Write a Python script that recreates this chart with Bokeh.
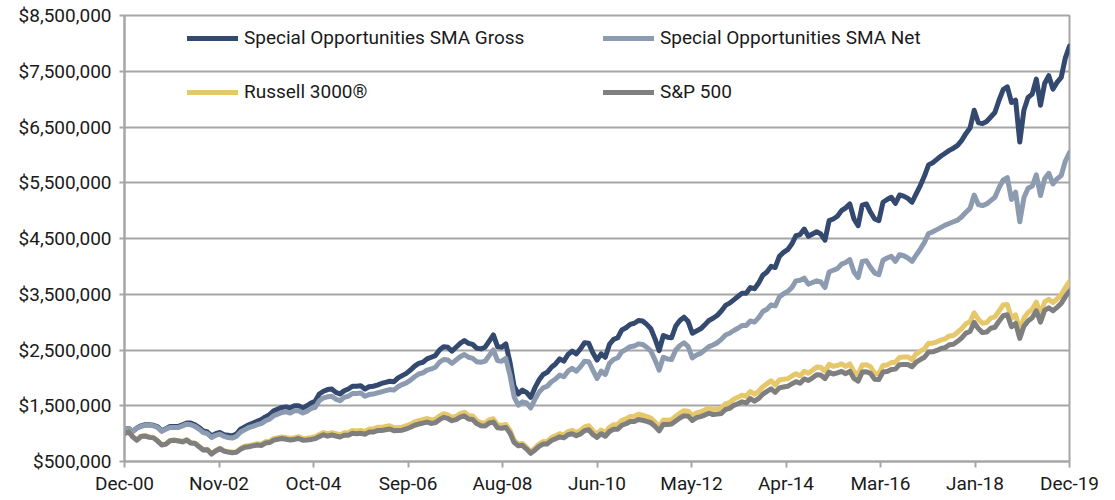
from bokeh.plotting import figure
from bokeh.models import (Range1d, FixedTicker, NumeralTickFormatter, Legend, LegendItem)
from bokeh.embed import file_html
from bokeh.resources import INLINE

# Month-end values (in $ millions) from Dec-00 to Dec-19, one per month
gross_m = [
    1.08,
    1.09, 1.04, 1.10, 1.14, 1.16, 1.16, 1.15, 1.12, 1.05, 1.09, 1.13, 1.13,
    1.13, 1.16, 1.19, 1.19, 1.16, 1.11, 1.05, 1.03, 0.96, 1.00, 1.02, 0.98,
    0.97, 0.96, 0.99, 1.08, 1.12, 1.16, 1.19, 1.22, 1.25, 1.30, 1.34, 1.41,
    1.44, 1.47, 1.48, 1.46, 1.50, 1.50, 1.46, 1.50, 1.55, 1.58, 1.71, 1.76,
    1.79, 1.80, 1.74, 1.71, 1.77, 1.80, 1.85, 1.85, 1.86, 1.80, 1.84, 1.85,
    1.87, 1.90, 1.92, 1.94, 1.93, 2.00, 2.04, 2.08, 2.14, 2.21, 2.26, 2.28,
    2.34, 2.37, 2.40, 2.50, 2.56, 2.55, 2.48, 2.55, 2.62, 2.67, 2.62, 2.60,
    2.53, 2.52, 2.55, 2.66, 2.77, 2.56, 2.55, 2.61, 2.28, 1.85, 1.71, 1.78,
    1.74, 1.65, 1.82, 1.96, 2.06, 2.10, 2.19, 2.25, 2.34, 2.30, 2.42, 2.48,
    2.43, 2.52, 2.63, 2.62, 2.45, 2.32, 2.43, 2.37, 2.60, 2.69, 2.72, 2.86,
    2.90, 2.96, 2.98, 3.03, 3.02, 2.96, 2.88, 2.70, 2.49, 2.76, 2.73, 2.72,
    2.93, 3.03, 3.09, 3.01, 2.80, 2.84, 2.88, 2.95, 3.03, 3.07, 3.12, 3.20,
    3.30, 3.34, 3.40, 3.46, 3.52, 3.52, 3.62, 3.60, 3.70, 3.84, 3.90, 4.00,
    3.98, 4.18, 4.25, 4.30, 4.40, 4.55, 4.57, 4.67, 4.54, 4.58, 4.62, 4.58,
    4.47, 4.82, 4.85, 4.90, 5.00, 5.05, 5.12, 4.85, 4.73, 5.10, 5.12, 4.97,
    4.85, 4.82, 5.15, 5.20, 5.24, 5.13, 5.28, 5.26, 5.22, 5.15, 5.30, 5.45,
    5.62, 5.82, 5.86, 5.92, 5.98, 6.03, 6.08, 6.12, 6.17, 6.26, 6.38, 6.48,
    6.80, 6.58, 6.56, 6.60, 6.68, 6.76, 6.98, 7.17, 7.22, 6.94, 6.98, 6.23,
    6.80, 7.03, 7.09, 7.36, 6.89, 7.28, 7.42, 7.18, 7.30, 7.39, 7.74, 7.95,
]

net_m = [
    1.08,
    1.09, 1.04, 1.10, 1.13, 1.15, 1.15, 1.14, 1.11, 1.04, 1.08, 1.11, 1.11,
    1.11, 1.14, 1.17, 1.16, 1.13, 1.08, 1.02, 1.00, 0.93, 0.97, 0.99, 0.95,
    0.93, 0.92, 0.95, 1.03, 1.07, 1.11, 1.13, 1.16, 1.18, 1.23, 1.26, 1.32,
    1.35, 1.38, 1.39, 1.37, 1.41, 1.41, 1.37, 1.40, 1.45, 1.47, 1.59, 1.64,
    1.66, 1.67, 1.62, 1.59, 1.65, 1.67, 1.72, 1.72, 1.73, 1.67, 1.70, 1.71,
    1.73, 1.75, 1.77, 1.79, 1.78, 1.84, 1.88, 1.91, 1.96, 2.02, 2.07, 2.09,
    2.14, 2.16, 2.19, 2.28, 2.33, 2.32, 2.26, 2.32, 2.38, 2.42, 2.37, 2.35,
    2.29, 2.28, 2.30, 2.40, 2.50, 2.31, 2.30, 2.35, 2.05, 1.66, 1.51, 1.57,
    1.55, 1.46, 1.61, 1.74, 1.82, 1.85, 1.93, 1.98, 2.05, 2.02, 2.12, 2.17,
    2.12, 2.20, 2.30, 2.29, 2.14, 1.99, 2.12, 2.06, 2.26, 2.33, 2.36, 2.47,
    2.51, 2.56, 2.57, 2.61, 2.60, 2.55, 2.48, 2.32, 2.14, 2.37, 2.34, 2.33,
    2.50, 2.58, 2.63, 2.56, 2.36, 2.41, 2.44, 2.50, 2.56, 2.59, 2.63, 2.69,
    2.77, 2.80, 2.85, 2.89, 2.94, 2.94, 3.02, 3.00, 3.08, 3.19, 3.23, 3.31,
    3.29, 3.45, 3.51, 3.55, 3.62, 3.74, 3.75, 3.79, 3.68, 3.71, 3.74, 3.72,
    3.62, 3.90, 3.93, 3.96, 4.04, 4.07, 4.12, 3.90, 3.80, 4.09, 4.10, 3.98,
    3.88, 3.85, 4.11, 4.15, 4.18, 4.09, 4.21, 4.19, 4.15, 4.09, 4.20, 4.31,
    4.43, 4.59, 4.62, 4.66, 4.70, 4.74, 4.77, 4.80, 4.83, 4.89, 4.97, 5.04,
    5.28, 5.11, 5.09, 5.12, 5.18, 5.24, 5.41, 5.55, 5.59, 5.20, 5.33, 4.80,
    5.23, 5.40, 5.44, 5.64, 5.27, 5.57, 5.67, 5.48, 5.57, 5.63, 5.89, 6.04,
]

russell_m = [
    1.000,
    1.040, 0.945, 0.885, 0.955, 0.962, 0.940, 0.930, 0.872, 0.800, 0.815, 0.878, 0.885,
    0.876, 0.858, 0.893, 0.838, 0.831, 0.772, 0.711, 0.716, 0.640, 0.696, 0.738, 0.695,
    0.678, 0.668, 0.676, 0.733, 0.775, 0.786, 0.802, 0.819, 0.811, 0.857, 0.865, 0.910,
    0.928, 0.941, 0.929, 0.913, 0.926, 0.946, 0.913, 0.918, 0.930, 0.945, 0.985, 1.019,
    0.995, 1.016, 0.999, 0.980, 1.014, 1.017, 1.058, 1.049, 1.058, 1.040, 1.081, 1.082,
    1.113, 1.113, 1.129, 1.142, 1.107, 1.109, 1.115, 1.142, 1.171, 1.211, 1.235, 1.252,
    1.271, 1.246, 1.260, 1.314, 1.359, 1.336, 1.290, 1.312, 1.360, 1.383, 1.325, 1.316,
    1.235, 1.196, 1.190, 1.248, 1.266, 1.158, 1.148, 1.164, 1.060, 0.880, 0.815, 0.825,
    0.757, 0.677, 0.737, 0.812, 0.857, 0.861, 0.928, 0.962, 0.998, 0.977, 1.037, 1.059,
    1.022, 1.056, 1.122, 1.143, 1.053, 0.995, 1.065, 1.019, 1.114, 1.160, 1.163, 1.238,
    1.264, 1.309, 1.311, 1.348, 1.331, 1.307, 1.279, 1.206, 1.117, 1.244, 1.240, 1.251,
    1.311, 1.367, 1.412, 1.403, 1.319, 1.372, 1.391, 1.423, 1.460, 1.434, 1.443, 1.456,
    1.535, 1.557, 1.617, 1.651, 1.691, 1.668, 1.756, 1.706, 1.760, 1.840, 1.896, 1.945,
    1.875, 1.962, 1.975, 1.983, 2.030, 2.075, 2.037, 2.119, 2.083, 2.138, 2.193, 2.189,
    2.121, 2.243, 2.209, 2.222, 2.251, 2.206, 2.249, 2.112, 2.057, 2.229, 2.237, 2.199,
    2.079, 2.078, 2.222, 2.232, 2.274, 2.281, 2.367, 2.373, 2.375, 2.328, 2.432, 2.480,
    2.521, 2.620, 2.622, 2.647, 2.681, 2.700, 2.753, 2.760, 2.819, 2.883, 2.971, 3.004,
    3.168, 3.052, 2.980, 2.991, 3.072, 3.094, 3.200, 3.309, 3.318, 3.067, 3.130, 2.846,
    3.074, 3.174, 3.229, 3.358, 3.142, 3.362, 3.410, 3.352, 3.415, 3.490, 3.620, 3.729,
]

sp500_m = [
    1.000,
    1.035, 0.941, 0.881, 0.950, 0.956, 0.933, 0.924, 0.866, 0.796, 0.811, 0.873, 0.881,
    0.868, 0.851, 0.883, 0.830, 0.824, 0.765, 0.706, 0.710, 0.633, 0.689, 0.729, 0.686,
    0.668, 0.658, 0.664, 0.719, 0.757, 0.766, 0.780, 0.795, 0.787, 0.831, 0.839, 0.883,
    0.899, 0.911, 0.898, 0.884, 0.896, 0.913, 0.883, 0.887, 0.896, 0.910, 0.947, 0.979,
    0.955, 0.975, 0.958, 0.940, 0.970, 0.971, 1.007, 0.998, 1.006, 0.989, 1.027, 1.027,
    1.054, 1.057, 1.070, 1.084, 1.053, 1.054, 1.061, 1.086, 1.114, 1.150, 1.172, 1.189,
    1.207, 1.183, 1.197, 1.250, 1.293, 1.272, 1.232, 1.251, 1.297, 1.318, 1.263, 1.254,
    1.179, 1.141, 1.136, 1.191, 1.207, 1.105, 1.096, 1.112, 1.013, 0.843, 0.782, 0.790,
    0.724, 0.647, 0.703, 0.770, 0.813, 0.815, 0.877, 0.908, 0.942, 0.924, 0.980, 0.999,
    0.963, 0.993, 1.053, 1.069, 0.984, 0.933, 0.998, 0.953, 1.038, 1.078, 1.078, 1.150,
    1.177, 1.218, 1.218, 1.254, 1.240, 1.219, 1.195, 1.130, 1.050, 1.165, 1.162, 1.174,
    1.227, 1.280, 1.322, 1.314, 1.235, 1.286, 1.304, 1.333, 1.367, 1.342, 1.350, 1.362,
    1.433, 1.452, 1.507, 1.536, 1.571, 1.550, 1.629, 1.582, 1.631, 1.706, 1.758, 1.803,
    1.741, 1.820, 1.836, 1.849, 1.893, 1.932, 1.905, 1.981, 1.953, 2.001, 2.055, 2.050,
    1.988, 2.102, 2.069, 2.089, 2.116, 2.075, 2.118, 1.990, 1.941, 2.105, 2.111, 2.078,
    1.975, 1.972, 2.106, 2.114, 2.152, 2.157, 2.237, 2.240, 2.240, 2.200, 2.281, 2.326,
    2.370, 2.464, 2.467, 2.492, 2.527, 2.543, 2.595, 2.603, 2.656, 2.718, 2.802, 2.833,
    2.995, 2.885, 2.812, 2.822, 2.890, 2.908, 3.016, 3.114, 3.132, 2.918, 2.977, 2.709,
    2.926, 3.020, 3.078, 3.203, 2.999, 3.211, 3.257, 3.205, 3.265, 3.336, 3.457, 3.561,
]

series_names = ["Special Opportunities SMA Gross", "Special Opportunities SMA Net",
                "Russell 3000®", "S&P 500"]
x_tick_labels = ["Dec-00", "Nov-02", "Oct-04", "Sep-06", "Aug-08", "Jun-10",
                 "May-12", "Apr-14", "Mar-16", "Jan-18", "Dec-19"]
y_ticks = [500000, 1500000, 2500000, 3500000, 4500000, 5500000, 6500000, 7500000, 8500000]

colors = ["#34496f", "#8c9bb0", "#e6c86a", "#7f7f7f"]
FONT = "Roboto"
GRID = "#a6a6a6"

months = list(range(len(sp500_m)))
n_months = len(months) - 1

p = figure(width=1115, height=500, output_backend="svg", toolbar_location=None,
           x_range=Range1d(0, n_months), y_range=Range1d(y_ticks[0], y_ticks[-1]),
           min_border_left=124, min_border_right=46, min_border_top=15, min_border_bottom=39)

renderers = []
for vals, col in zip([gross_m, net_m, russell_m, sp500_m], colors):
    r = p.line(months, [v * 1e6 for v in vals], line_color=col, line_width=5,
               line_join="round", line_cap="round")
    renderers.append(r)

# axes
step = n_months / (len(x_tick_labels) - 1)
xt = [round(i * step, 4) for i in range(len(x_tick_labels))]
p.xaxis.ticker = FixedTicker(ticks=xt)
p.xaxis.major_label_overrides = {t: lab for t, lab in zip(xt, x_tick_labels)}
p.yaxis.ticker = FixedTicker(ticks=y_ticks)
p.yaxis.formatter = NumeralTickFormatter(format="$0,0")

for ax in (p.xaxis, p.yaxis):
    ax.axis_line_color = GRID
    ax.axis_line_width = 2
    ax.major_tick_line_color = GRID
    ax.major_tick_line_width = 2
    ax.major_tick_in = 0
    ax.minor_tick_line_color = None
    ax.major_label_text_font = FONT
    ax.major_label_text_font_size = "19px"
    ax.major_label_text_color = "#1a1a1a"
p.xaxis.major_tick_out = 6
p.xaxis.major_label_standoff = 4
p.yaxis.major_tick_out = 5
p.yaxis.major_label_standoff = 8

p.xgrid.grid_line_color = None
p.ygrid.grid_line_color = GRID
p.ygrid.grid_line_width = 2
p.outline_line_color = GRID
p.outline_line_width = 2
p.background_fill_color = "white"
p.border_fill_color = "white"


def make_legend(items, loc):
    lg = Legend(items=items, location=loc, orientation="vertical",
                glyph_width=51, glyph_height=20, label_height=20, label_standoff=6,
                spacing=31, padding=0, margin=0, border_line_alpha=0,
                background_fill_alpha=0, label_text_font=FONT,
                label_text_font_size="19px", label_text_color="#1a1a1a")
    return lg


leg1 = make_legend([LegendItem(label=series_names[0], renderers=[renderers[0]]),
                    LegendItem(label=series_names[2], renderers=[renderers[2]])], (63, 358))
leg2 = make_legend([LegendItem(label=series_names[1], renderers=[renderers[1]]),
                    LegendItem(label=series_names[3], renderers=[renderers[3]])], (479, 358))
p.add_layout(leg1)
p.add_layout(leg2)

open("out.html", "w").write(file_html(p, INLINE))
